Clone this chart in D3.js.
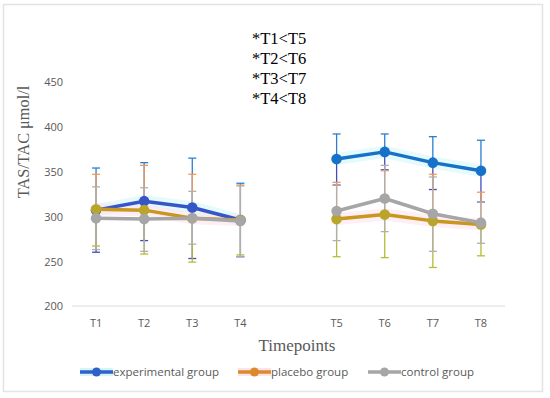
<!DOCTYPE html>
<html><head><meta charset="utf-8">
<script src="https://cdn.jsdelivr.net/npm/d3@7/dist/d3.min.js"></script>
<style>body{margin:0;background:#fff}svg{display:block}</style>
</head><body>
<svg id="c" width="550" height="398"></svg>
<script>
const slots = ["T1","T2","T3","T4","","T5","T6","T7","T8"];
const timepoints = ["T1","T2","T3","T4","T5","T6","T7","T8"];
const yTicks = [200,250,300,350,400,450];
const notes = ["*T1<T5","*T2<T6","*T3<T7","*T4<T8"];
const seriesNames = ["experimental group","placebo group","control group"];
const expMean = [307,317,310,296,364,372,360,351];
const expHi   = [354,360,365,337,392,392,389,385];
const expLo   = [260,273,253,255,335,352,330,316];
const plaMean = [308,307,298,296,297,302,295,291];
const plaHi   = [347,357,347,335,338,351,347,327];
const plaLo   = [267,258,249,257,255,254,243,256];
const conMean = [298,297,298,295,306,320,303,293];
const conHi   = [333,332,328,334,335,357,344,316];
const conLo   = [263,261,269,255,273,283,261,270];

const svg = d3.select("#c");
svg.append("rect").attr("x",3.5).attr("y",4.5).attr("width",539).attr("height",387)
  .attr("fill","#fff").attr("stroke","#e3e3e3").attr("stroke-width",1.5);

const x = d3.scaleBand().domain(slots.map((d,i)=>i)).range([72,505]);
const xc = t => x(slots.indexOf(t)) + x.bandwidth()/2;
const y = d3.scaleLinear().domain([200,450]).range([306,82]);

// axis line
svg.append("line").attr("x1",72).attr("x2",505).attr("y1",y(200)).attr("y2",y(200))
  .attr("stroke","#d9d9d9").attr("stroke-width",1);

// y tick labels
const yAxis = d3.axisLeft(y).tickValues(yTicks).tickSize(0).tickPadding(0);
const gy = svg.append("g").attr("transform","translate(68,0)").call(yAxis);
gy.select(".domain").remove();
gy.selectAll("text").attr("font-family","Open Sans, Liberation Sans, sans-serif")
  .attr("font-size",11).attr("fill","#595959").attr("dy","0.35em").attr("x",-5);

// x tick labels
const xAxis = d3.axisBottom(x).tickFormat(i=>slots[i]).tickSize(0).tickPadding(0);
const gx = svg.append("g").attr("transform",`translate(0,${y(200)+17})`).call(xAxis);
gx.select(".domain").remove();
gx.selectAll("text").attr("font-family","Open Sans, Liberation Sans, sans-serif")
  .attr("font-size",11).attr("fill","#595959").attr("dy","0.35em");

// axis titles
svg.append("text").attr("x",297).attr("y",351).attr("text-anchor","middle")
  .attr("font-family","Liberation Serif, serif").attr("font-size",17).attr("fill","#595959")
  .text("Timepoints");
svg.append("text").attr("transform","translate(29,142) rotate(-90)").attr("text-anchor","middle")
  .attr("font-family","Liberation Serif, serif").attr("font-size",16.3).attr("fill","#595959")
  .text("TAS/TAC μmol/l");

// notes
svg.append("g").selectAll("text").data(notes).join("text")
  .attr("x",252).attr("y",(d,i)=>43.5+i*20)
  .attr("font-family","Liberation Serif, serif").attr("font-size",16.5).attr("fill","#000")
  .text(d=>d);

const groups = [[0,4],[4,8]];
const line = d3.line().x(d=>xc(d.t)).y(d=>y(d.v));
function pts(arr, a, b){ return timepoints.slice(a,b).map((t,i)=>({t, v:arr[a+i]})); }

// glow lines
function glow(arr, col){
  groups.forEach(([a,b])=>{
    svg.append("path").datum(pts(arr,a,b)).attr("d",line).attr("fill","none")
      .attr("stroke",col).attr("stroke-width",12).attr("opacity",0.6).attr("stroke-linecap","round");
  });
}
glow(expMean, "#d2f6fb");
glow(plaMean, "#fde3ef");

// error bars
function errbars(mean, hi, lo, colHi, colLo){
  timepoints.forEach((t,i)=>{
    const cx = xc(t);
    svg.append("line").attr("x1",cx).attr("x2",cx).attr("y1",y(mean[i])).attr("y2",y(hi[i]))
      .attr("stroke",colHi).attr("stroke-width",1.3);
    svg.append("line").attr("x1",cx).attr("x2",cx).attr("y1",y(mean[i])).attr("y2",y(lo[i]))
      .attr("stroke",colLo).attr("stroke-width",1.3);
    svg.append("line").attr("x1",cx-4).attr("x2",cx+4).attr("y1",y(hi[i])).attr("y2",y(hi[i]))
      .attr("stroke",colHi).attr("stroke-width",1.3);
    svg.append("line").attr("x1",cx-4).attr("x2",cx+4).attr("y1",y(lo[i])).attr("y2",y(lo[i]))
      .attr("stroke",colLo).attr("stroke-width",1.3);
  });
}
errbars(expMean, expHi, expLo, "#2a7fd0", "#3f4fc0");
errbars(plaMean, plaHi, plaLo, "#f29a5a", "#b9b83a");
errbars(conMean, conHi, conLo, "#b0b0b0", "#b0b0b0");

// series lines and markers
function series(arr, cols, mcols){
  groups.forEach(([a,b],gi)=>{
    const p = pts(arr,a,b);
    svg.append("path").datum(p).attr("d",line).attr("fill","none")
      .attr("stroke",cols[gi]).attr("stroke-width",3.5).attr("stroke-linejoin","round");
    svg.append("g").selectAll("circle").data(p).join("circle")
      .attr("cx",d=>xc(d.t)).attr("cy",d=>y(d.v)).attr("r",5.3).attr("fill",mcols[gi]);
  });
}
series(expMean, ["#3656c8","#1771c6"], ["#3656c8","#1771c6"]);
series(plaMean, ["#c9961f","#c9961f"], ["#b9a52a","#b9a52a"]);
series(conMean, ["#a6a6a6","#a6a6a6"], ["#a6a6a6","#a6a6a6"]);

// legend
const legCols = [["#3161c8","#d2f6fb"],["#dd8a2c","#fde3ef"],["#a6a6a6",null]];
const legX = [80,238,368];
seriesNames.forEach((n,i)=>{
  const g = svg.append("g").attr("transform",`translate(${legX[i]},372)`);
  if(legCols[i][1]) g.append("rect").attr("x",0).attr("y",-4).attr("width",33).attr("height",8).attr("fill",legCols[i][1]);
  g.append("line").attr("x1",0).attr("x2",33).attr("y1",0).attr("y2",0).attr("stroke",legCols[i][0]).attr("stroke-width",3.5);
  g.append("circle").attr("cx",16.5).attr("cy",0).attr("r",4.5).attr("fill",legCols[i][0]);
  g.append("text").attr("x",33).attr("y",0).attr("dy","0.35em")
    .attr("font-family","Open Sans, Liberation Sans, sans-serif").attr("font-size",11.5).attr("fill","#595959").text(n);
});
</script>
</body></html>
